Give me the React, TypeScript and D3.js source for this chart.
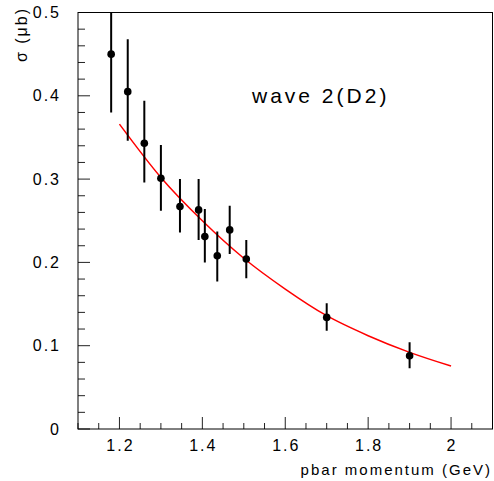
import React from "react";
import * as d3 from "d3";

const momentum = [1.18, 1.22, 1.26, 1.3, 1.346, 1.391, 1.406, 1.436, 1.466, 1.506, 1.7, 1.9];
const sigma = [0.45, 0.405, 0.343, 0.301, 0.267, 0.263, 0.231, 0.208, 0.239, 0.204, 0.134, 0.088];
const errLow = [0.38, 0.346, 0.296, 0.262, 0.236, 0.227, 0.2, 0.177, 0.21, 0.181, 0.118, 0.073];
const errHigh = [0.52, 0.468, 0.394, 0.341, 0.3, 0.3, 0.264, 0.237, 0.268, 0.227, 0.151, 0.104];

const fitX = [1.2, 1.3, 1.4, 1.5, 1.6, 1.7, 1.8, 1.9, 2.0];
const fitY = [0.366, 0.302, 0.25, 0.205, 0.168, 0.136, 0.112, 0.092, 0.0756];

const xMajor = [1.2, 1.4, 1.6, 1.8, 2.0];
const xMajorLabels = ["1.2", "1.4", "1.6", "1.8", "2"];
const xMinor = [1.1, 1.15, 1.25, 1.3, 1.35, 1.45, 1.5, 1.55, 1.65, 1.7, 1.75, 1.85, 1.9, 1.95, 2.05];
const yMajor = [0, 0.1, 0.2, 0.3, 0.4, 0.5];
const yMajorLabels = ["0", "0.1", "0.2", "0.3", "0.4", "0.5"];
const yMinor = [0.02, 0.04, 0.06, 0.08, 0.12, 0.14, 0.16, 0.18, 0.22, 0.24, 0.26, 0.28, 0.32, 0.34, 0.36, 0.38, 0.42, 0.44, 0.46, 0.48];

const W = 494;
const H = 481;
const L = 78;
const R = 492.5;
const T = 12.5;
const B = 429;

export default function App() {
  const x = d3.scaleLinear().domain([1.1, 2.1]).range([L, R]);
  const y = d3.scaleLinear().domain([0, 0.5]).range([B, T]);
  const line = d3
    .line<number>()
    .x((_, i) => x(fitX[i]))
    .y((d) => y(d))
    .curve(d3.curveMonotoneX);
  const font = "'Liberation Sans', Arial, sans-serif";
  return (
    <svg
      width={W}
      height={H}
      style={{ position: "absolute", left: 0, top: 0, background: "#fff" }}
      fontFamily={font}
    >
      <rect x={0} y={0} width={W} height={H} fill="#fff" />
      <defs>
        <clipPath id="plot">
          <rect x={L} y={T} width={R - L} height={B - T} />
        </clipPath>
      </defs>
      {/* ticks */}
      {xMajor.map((v, i) => (
        <line key={"xM" + i} x1={x(v)} x2={x(v)} y1={B} y2={B - 12} stroke="#222" strokeWidth={1} />
      ))}
      {xMinor.map((v, i) => (
        <line key={"xm" + i} x1={x(v)} x2={x(v)} y1={B} y2={B - 6} stroke="#222" strokeWidth={1} />
      ))}
      {yMajor.map((v, i) => (
        <line key={"yM" + i} x1={L} x2={L + 12} y1={y(v)} y2={y(v)} stroke="#222" strokeWidth={1} />
      ))}
      {yMinor.map((v, i) => (
        <line key={"ym" + i} x1={L} x2={L + 7} y1={y(v)} y2={y(v)} stroke="#222" strokeWidth={1} />
      ))}
      {/* frame */}
      <rect x={L} y={T} width={R - L} height={B - T} fill="none" stroke="#000" strokeWidth={1} />
      {/* tick labels */}
      {xMajor.map((v, i) => (
        <text key={"xl" + i} x={x(v) + 1} y={451} textAnchor="middle" fontSize={16} letterSpacing={2}>
          {xMajorLabels[i]}
        </text>
      ))}
      {yMajor.map((v, i) => (
        <text key={"yl" + i} x={61} y={y(v) + 5.5} textAnchor="end" fontSize={16} letterSpacing={2}>
          {yMajorLabels[i]}
        </text>
      ))}
      {/* axis titles */}
      <text x={492} y={475} textAnchor="end" fontSize={15} letterSpacing={2}>
        pbar momentum (GeV)
      </text>
      <text transform="translate(27,7) rotate(-90)" textAnchor="end" fontSize={16} letterSpacing={2}>
        σ (μb)
      </text>
      <text x={252} y={103} fontSize={21} letterSpacing={3}>
        wave 2(D2)
      </text>
      <g clipPath="url(#plot)">
        <path d={line(fitY) || ""} fill="none" stroke="#ff0000" strokeWidth={1.5} />
        {momentum.map((m, i) => (
          <g key={"p" + i}>
            <line x1={x(m)} x2={x(m)} y1={y(errLow[i])} y2={y(errHigh[i])} stroke="#000" strokeWidth={2} />
            <circle cx={x(m)} cy={y(sigma[i])} r={3.8} fill="#000" />
          </g>
        ))}
      </g>
    </svg>
  );
}
